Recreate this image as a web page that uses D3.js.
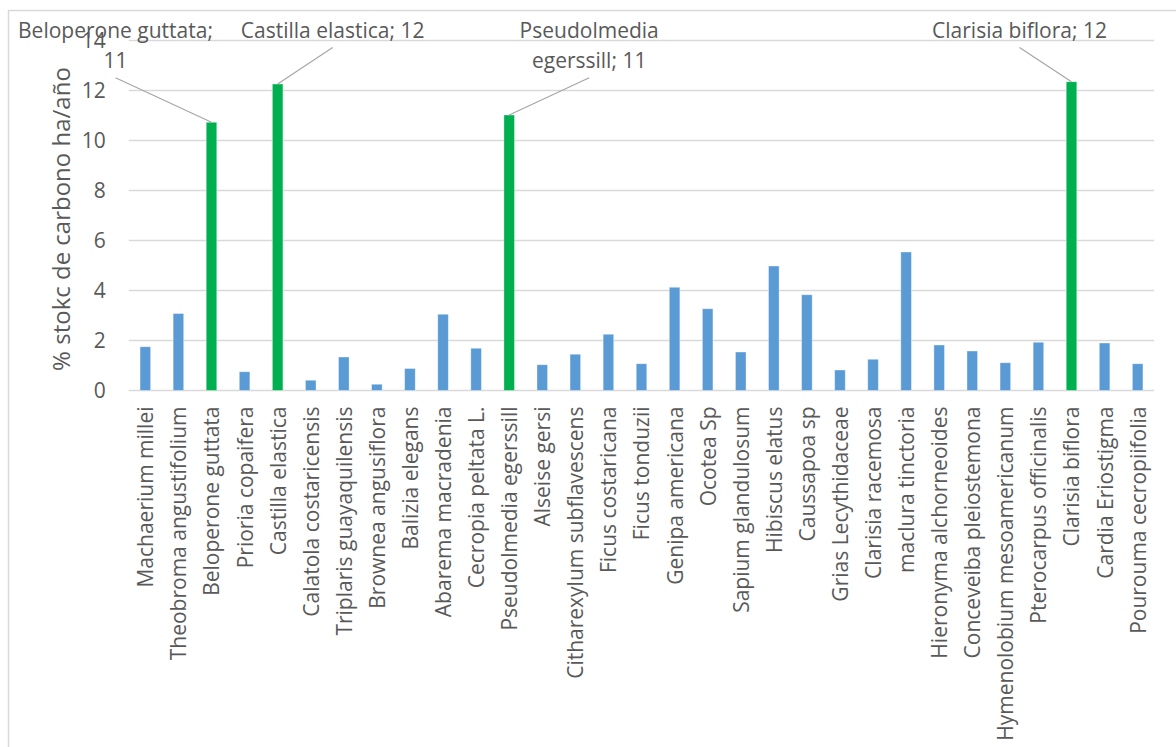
<!doctype html>
<html>
<head>
<meta charset="utf-8">
<script src="https://d3js.org/d3.v7.min.js"></script>
<style>
  body { margin: 0; background: #fff; }
  svg { display: block; font-family: "Open Sans", sans-serif; }
</style>
</head>
<body>
<svg width="1176" height="747"></svg>
<script>
// species and their % stock of carbon per ha/year
var species = ["Machaerium millei", "Theobroma angustifolium", "Beloperone guttata", "Prioria copaifera",
  "Castilla elastica", "Calatola costaricensis", "Triplaris guayaquilensis", "Brownea angusiflora",
  "Balizia elegans", "Abarema macradenia", "Cecropia peltata L.", "Pseudolmedia egerssill",
  "Alseise gersi", "Citharexylum subflavescens", "Ficus costaricana", "Ficus tonduzii",
  "Genipa americana", "Ocotea Sp", "Sapium glandulosum", "Hibiscus elatus", "Caussapoa sp",
  "Grias Lecythidaceae", "Clarisia racemosa", "maclura tinctoria", "Hieronyma alchorneoides",
  "Conceveiba pleiostemona", "Hymenolobium mesoamericanum", "Pterocarpus officinalis",
  "Clarisia biflora", "Cardia Eriostigma", "Pourouma cecropiifolia"];
var stock = [1.75, 3.08, 10.73, 0.75, 12.26, 0.41, 1.34, 0.25, 0.88, 3.05, 1.69, 11.02,
  1.03, 1.45, 2.25, 1.07, 4.13, 3.27, 1.54, 4.98, 3.83, 0.82, 1.25, 5.54, 1.82,
  1.58, 1.11, 1.93, 12.35, 1.90, 1.07];
// bars drawn in green, with a callout label
var highlighted = ["Beloperone guttata", "Castilla elastica", "Pseudolmedia egerssill", "Clarisia biflora"];
var yTicks = [0, 2, 4, 6, 8, 10, 12, 14];
var yTitle = "% stokc de carbono ha/año";

var svg = d3.select("svg");
var textCol = "#595959";

// chart border (only top and left edges are inside the picture)
svg.append("rect")
  .attr("x", 8.5).attr("y", 10.5).attr("width", 1200).attr("height", 800)
  .attr("fill", "none").attr("stroke", "#d9d9d9").attr("stroke-width", 1.5);

var plotLeft = 128.8, plotRight = 1154.2, plotTop = 40.5, plotBottom = 390.5;

var x = d3.scaleBand().domain(species).range([plotLeft, plotRight]).paddingInner(0.68).paddingOuter(0.34);
var y = d3.scaleLinear().domain([0, 14]).range([plotBottom, plotTop]);

// gridlines
svg.append("g").selectAll("line")
  .data(yTicks).enter().append("line")
  .attr("x1", plotLeft).attr("x2", plotRight)
  .attr("y1", function(d) { return y(d); }).attr("y2", function(d) { return y(d); })
  .attr("stroke", "#d9d9d9").attr("stroke-width", 1.4);

// y axis labels
var yAxis = svg.append("g")
  .attr("transform", "translate(" + plotLeft + ",0)")
  .call(d3.axisLeft(y).tickValues(yTicks).tickSize(0).tickPadding(23));
yAxis.select(".domain").remove();
yAxis.selectAll("text")
  .attr("fill", textCol).style("font-size", "21px").style("font-family", "Open Sans");

svg.append("text")
  .attr("transform", "translate(70,219) rotate(-90)")
  .attr("text-anchor", "middle")
  .attr("fill", textCol).style("font-size", "24px")
  .text(yTitle);

// bars
var data = species.map(function(s, i) { return { name: s, value: stock[i] }; });
svg.append("g").selectAll("rect")
  .data(data).enter().append("rect")
  .attr("x", function(d) { return x(d.name); })
  .attr("width", x.bandwidth())
  .attr("y", function(d) { return y(d.value); })
  .attr("height", function(d) { return plotBottom - y(d.value); })
  .attr("fill", function(d) { return highlighted.indexOf(d.name) >= 0 ? "#00b050" : "#5b9bd5"; })
  .attr("stroke", "rgba(255,255,255,0.45)").attr("stroke-width", 0.8);

// category labels
var xAxis = svg.append("g")
  .attr("transform", "translate(0," + plotBottom + ")")
  .call(d3.axisBottom(x).tickSize(0));
xAxis.select(".domain").remove();
xAxis.selectAll("text")
  .attr("transform", "rotate(-90)")
  .attr("x", -16).attr("y", 0).attr("dy", "0.38em")
  .attr("text-anchor", "end")
  .attr("fill", textCol).style("font-size", "21px").style("font-family", "Open Sans");

// callout labels: horizontal offset of the label from its bar, and line breaks
var callouts = [
  { name: "Beloperone guttata", dx: -96, lines: function(t, v) { return [t + ";", v]; } },
  { name: "Castilla elastica", dx: 55, lines: function(t, v) { return [t + "; " + v]; } },
  { name: "Pseudolmedia egerssill", dx: 80, lines: function(t, v) { return ["Pseudolmedia", "egerssill; " + v]; } },
  { name: "Clarisia biflora", dx: -52, lines: function(t, v) { return [t + "; " + v]; } }
];
var cg = svg.append("g");
callouts.forEach(function(c) {
  var v = stock[species.indexOf(c.name)];
  var cx = x(c.name) + x.bandwidth() / 2;
  var lx = cx + c.dx;
  var lines = c.lines(c.name, Math.round(v));
  lines.forEach(function(l, i) {
    cg.append("text")
      .attr("x", lx).attr("y", 37.5 + i * 30.3)
      .attr("text-anchor", "middle")
      .attr("fill", textCol).style("font-size", "21px")
      .text(l);
  });
  cg.append("line")
    .attr("x1", lx).attr("y1", 37.5 + (lines.length - 1) * 30.3 + 10)
    .attr("x2", cx).attr("y2", y(v))
    .attr("stroke", "#a6a6a6").attr("stroke-width", 1.2);
});
</script>
</body>
</html>
